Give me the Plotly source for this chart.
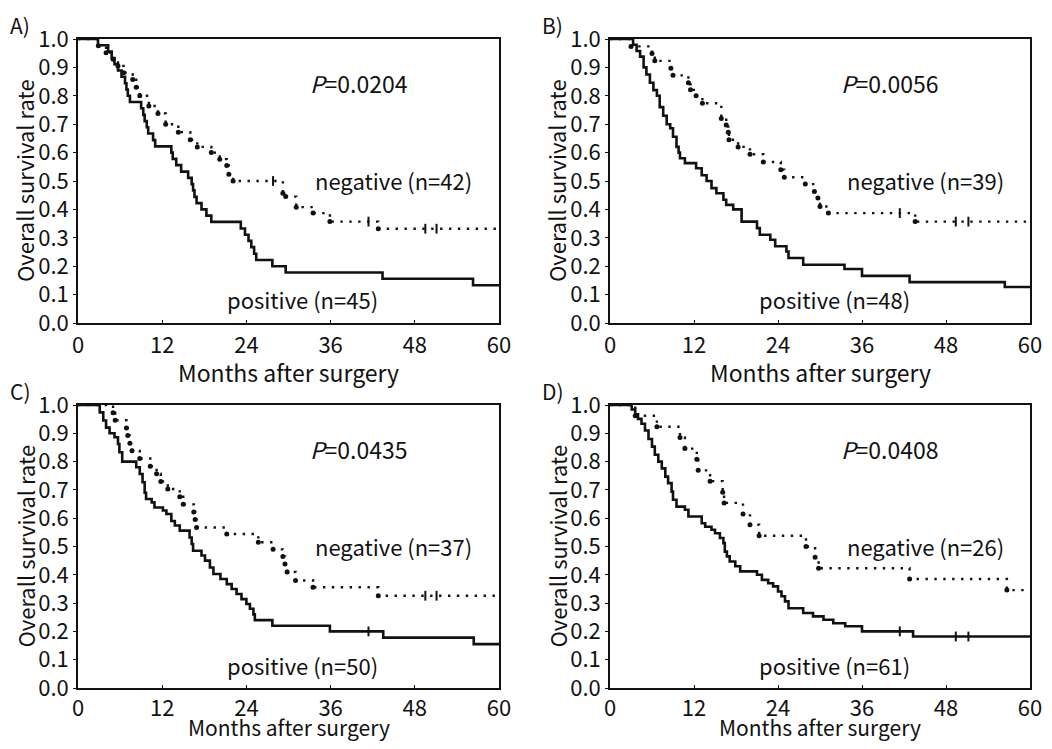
import plotly.graph_objects as go
from plotly.subplots import make_subplots

# Kaplan-Meier curves: drop times (months) and survival after each drop
# A)
a_pos_t = [2.85, 4.3, 4.8, 5.2, 5.7, 6.2, 6.7, 6.9, 7.1, 7.4, 9.0, 9.3, 9.5, 9.8, 10.0, 10.7, 11.0,
           13.3, 13.5, 14.0, 14.7, 15.7, 16.2, 16.4, 16.6, 16.9, 17.6, 18.3, 19.0, 23.2, 23.8, 24.3,
           24.7, 25.1, 25.4, 27.7, 29.6, 43.4, 56.3]
a_pos_s = [0.978, 0.956, 0.933, 0.911, 0.889, 0.867, 0.844, 0.822, 0.80, 0.778, 0.756, 0.733, 0.711,
           0.689, 0.667, 0.644, 0.622, 0.60, 0.578, 0.556, 0.533, 0.511, 0.489, 0.467, 0.444, 0.422,
           0.40, 0.378, 0.356, 0.333, 0.311, 0.289, 0.267, 0.244, 0.222, 0.20, 0.178, 0.156, 0.133]
a_neg_t = [2.9, 4.0, 5.0, 5.7, 6.5, 7.8, 8.3, 8.8, 10.1, 11.4, 12.5, 14.3, 16.0, 17.0, 19.0, 20.2,
           21.2, 21.5, 22.1, 29.2, 29.6, 31.1, 33.5, 35.9, 42.8]
a_neg_s = [0.976, 0.952, 0.929, 0.905, 0.881, 0.857, 0.83, 0.80, 0.764, 0.738, 0.70, 0.672, 0.645,
           0.62, 0.60, 0.577, 0.555, 0.524, 0.50, 0.457, 0.445, 0.408, 0.387, 0.357, 0.332]
a_cens_t = [27.8, 41.4, 49.5, 51.1]
a_cens_s = [0.50, 0.357, 0.332, 0.332]

# B)
b_pos_t = [3.3, 3.8, 4.3, 4.8, 5.2, 5.7, 6.2, 6.7, 7.1, 7.6, 8.1, 8.6, 9.0, 9.5, 9.8, 10.0, 10.7,
           12.3, 13.1, 13.8, 14.5, 15.2, 16.2, 16.6, 17.6, 18.8, 21.0, 21.4, 22.9, 23.6, 25.2, 25.5,
           27.6, 33.5, 36.0, 42.8, 56.4]
b_pos_s = [0.98, 0.958, 0.938, 0.90, 0.875, 0.846, 0.82, 0.80, 0.76, 0.73, 0.70, 0.686, 0.656,
           0.62, 0.60, 0.58, 0.563, 0.545, 0.52, 0.50, 0.475, 0.457, 0.434, 0.416, 0.40, 0.357,
           0.334, 0.311, 0.293, 0.27, 0.252, 0.229, 0.205, 0.19, 0.166, 0.144, 0.127]
b_neg_t = [3.0, 6.0, 6.4, 8.7, 9.0, 11.2, 11.5, 12.3, 13.2, 15.9, 16.6, 16.9, 17.0, 18.3, 20.0,
           21.9, 24.4, 24.9, 27.9, 29.2, 29.7, 30.0, 31.2, 43.6]
b_neg_s = [0.974, 0.949, 0.923, 0.897, 0.872, 0.846, 0.821, 0.80, 0.774, 0.72, 0.697, 0.672, 0.645,
           0.62, 0.594, 0.567, 0.54, 0.513, 0.489, 0.463, 0.44, 0.41, 0.387, 0.357]
b_cens_t = [41.4, 49.4, 51.2]
b_cens_s = [0.387, 0.357, 0.357]

# C)
c_pos_t = [3.1, 3.6, 4.0, 4.5, 5.2, 5.7, 5.9, 6.3, 8.3, 8.8, 9.2, 9.5, 9.7, 10.5, 10.9, 12.1, 12.6,
           13.3, 13.8, 14.5, 15.9, 16.2, 16.4, 17.6, 18.1, 18.8, 19.3, 20.3, 21.2, 21.9, 22.6, 23.3,
           24.0, 24.5, 25.0, 25.2, 27.7, 35.9, 43.5, 56.4]
c_pos_s = [0.974, 0.945, 0.92, 0.90, 0.886, 0.862, 0.833, 0.80, 0.78, 0.756, 0.727, 0.69, 0.668,
           0.656, 0.638, 0.627, 0.615, 0.59, 0.574, 0.556, 0.532, 0.509, 0.485, 0.468, 0.45, 0.426,
           0.403, 0.385, 0.367, 0.35, 0.332, 0.314, 0.297, 0.28, 0.26, 0.24, 0.22, 0.20, 0.178, 0.155]
c_neg_t = [5.0, 5.3, 6.9, 7.1, 7.4, 7.7, 8.8, 10.3, 11.2, 11.8, 12.8, 14.5, 15.0, 16.5, 16.7, 16.9,
           21.2, 25.7, 27.8, 29.2, 29.5, 29.8, 31.0, 33.5, 42.8]
c_neg_s = [0.973, 0.946, 0.919, 0.892, 0.865, 0.838, 0.811, 0.784, 0.757, 0.73, 0.703, 0.676, 0.649,
           0.622, 0.595, 0.567, 0.544, 0.515, 0.49, 0.465, 0.438, 0.41, 0.38, 0.356, 0.326]
c_cens_t = [41.4, 49.5, 51.1]
c_cens_s = [0.20, 0.326, 0.326]

# D)
d_pos_t = [3.1, 3.6, 4.0, 4.5, 5.0, 5.5, 6.0, 6.4, 6.9, 7.4, 7.9, 8.3, 8.8, 9.0, 9.5, 10.7, 11.2,
           13.1, 13.6, 14.5, 15.0, 15.7, 16.2, 16.4, 16.7, 17.1, 17.9, 18.6, 21.0, 21.7, 22.6, 23.3,
           24.0, 24.5, 25.0, 25.5, 27.6, 29.0, 30.5, 31.9, 33.6, 36.0, 43.3]
d_pos_s = [0.984, 0.967, 0.951, 0.934, 0.91, 0.88, 0.853, 0.824, 0.80, 0.776, 0.747, 0.724, 0.694,
           0.665, 0.641, 0.63, 0.606, 0.582, 0.57, 0.559, 0.547, 0.53, 0.512, 0.482, 0.465, 0.447,
           0.43, 0.412, 0.40, 0.382, 0.37, 0.359, 0.341, 0.324, 0.306, 0.282, 0.265, 0.253, 0.241,
           0.229, 0.218, 0.20, 0.182]
d_neg_t = [3.6, 6.7, 10.0, 10.7, 12.4, 12.6, 14.3, 16.1, 16.3, 19.0, 20.0, 21.3, 28.0, 29.3, 29.8,
           42.8, 56.7]
d_neg_s = [0.962, 0.923, 0.885, 0.846, 0.808, 0.769, 0.731, 0.692, 0.654, 0.615, 0.577, 0.538,
           0.50, 0.462, 0.423, 0.385, 0.346]
d_cens_t = [41.4, 49.4, 51.2]
d_cens_s = [0.20, 0.182, 0.182]

panel_letters = ["A)", "B)", "C)", "D)"]
p_values = ["0.0204", "0.0056", "0.0435", "0.0408"]
n_negative = [42, 39, 37, 26]
n_positive = [45, 48, 50, 61]
x_ticks = [0, 12, 24, 36, 48, 60]

panels = [
    (a_pos_t, a_pos_s, a_neg_t, a_neg_s, a_cens_t, a_cens_s),
    (b_pos_t, b_pos_s, b_neg_t, b_neg_s, b_cens_t, b_cens_s),
    (c_pos_t, c_pos_s, c_neg_t, c_neg_s, c_cens_t, c_cens_s),
    (d_pos_t, d_pos_s, d_neg_t, d_neg_s, d_cens_t, d_cens_s),
]

# page is 1052x749, the html body keeps an 8px margin round the figure
OFF = 8
W, H = 1052 - 2 * OFF, 749 - 2 * OFF
FONT = "Noto Sans CJK JP"
INK = "#111111"

# plot areas in page pixels: (left, right, top, bottom)
boxes = [(78, 499, 39, 323), (610, 1030, 39, 323), (78, 499, 405, 688), (610, 1030, 405, 688)]
# x title centre below the plot, and its size (bottom row sits against the page edge)
title_gap = [49, 49, 39, 39]
title_size = [23, 23, 21, 21]
tick_standoff = [2, 2, 0, 0]


def px(x):
    return (x - OFF) / W


def py(y):
    return 1 - (y - OFF) / H


def km_xy(t, s):
    return [0] + list(t) + [60], [1.0] + list(s) + [s[-1]]


fig = make_subplots(rows=2, cols=2)

for i, (pt, ps, nt, ns, ct, cs) in enumerate(panels):
    row, col = i // 2 + 1, i % 2 + 1
    x, y = km_xy(pt, ps)
    fig.add_trace(go.Scatter(x=x, y=y, mode="lines", line=dict(shape="hv", color=INK, width=2.6),
                             showlegend=False, hoverinfo="skip"), row=row, col=col)
    x, y = km_xy(nt, ns)
    fig.add_trace(go.Scatter(x=x, y=y, mode="lines",
                             line=dict(shape="hv", color=INK, width=2.4, dash="2.4px,6.5px"),
                             showlegend=False, hoverinfo="skip"), row=row, col=col)
    fig.add_trace(go.Scatter(x=nt, y=ns, mode="markers", marker=dict(color=INK, size=5),
                             showlegend=False, hoverinfo="skip", cliponaxis=False), row=row, col=col)
    fig.add_trace(go.Scatter(x=ct, y=cs, mode="markers",
                             marker=dict(symbol="line-ns-open", size=7, color=INK,
                                         line=dict(color=INK, width=2)),
                             showlegend=False, hoverinfo="skip", cliponaxis=False), row=row, col=col)

    l, r, t, b = boxes[i]
    sfx = "" if i == 0 else str(i + 1)
    fig.layout["xaxis" + sfx].update(
        domain=[px(l), px(r)], range=[0, 60], tickvals=x_ticks, showgrid=False, zeroline=False,
        showline=True, mirror=True, linecolor=INK, linewidth=1.6, automargin=False,
        ticks="inside", ticklen=3, tickcolor=INK, ticklabelstandoff=tick_standoff[i],
        tickfont=dict(family=FONT, size=22, color=INK))
    fig.layout["yaxis" + sfx].update(
        domain=[py(b), py(t)], range=[0, 1], dtick=0.1, tickformat=".1f", showgrid=False,
        zeroline=False, showline=True, mirror=True, linecolor=INK, linewidth=1.6, automargin=False,
        ticks="outside", ticklen=3, tickcolor=INK,
        tickfont=dict(family=FONT, size=22, color=INK))

    xr, yr = "x" + sfx, "y" + sfx
    txt = dict(family=FONT, size=22, color=INK)
    fig.add_annotation(x=40, y=0.845, xref=xr, yref=yr, text="<i>P</i>=" + p_values[i],
                       showarrow=False, font=dict(family=FONT, size=23, color=INK))
    fig.add_annotation(x=45, y=0.502, xref=xr, yref=yr, text="negative (n=%d)" % n_negative[i],
                       showarrow=False, font=txt)
    fig.add_annotation(x=32, y=0.083, xref=xr, yref=yr, text="positive (n=%d)" % n_positive[i],
                       showarrow=False, font=txt)

    # panel letter, axis titles
    fig.add_annotation(x=px(l - 70), y=py(t - 14), xref="paper", yref="paper",
                       text=panel_letters[i], showarrow=False, xanchor="left", yanchor="middle",
                       font=dict(family=FONT, size=21, color=INK))
    fig.add_annotation(x=px((l + r) / 2), y=py(b + title_gap[i]), xref="paper", yref="paper",
                       text="Months after surgery", showarrow=False,
                       xanchor="center", yanchor="middle",
                       font=dict(family=FONT, size=title_size[i], color=INK))
    fig.add_annotation(x=px(l - 54), y=py((t + b) / 2), xref="paper", yref="paper",
                       text="Overall survival rate", showarrow=False, textangle=-90,
                       xanchor="center", yanchor="middle",
                       font=dict(family=FONT, size=22, color=INK))

fig.update_layout(width=W, height=H, margin=dict(l=0, r=0, t=0, b=0),
                  plot_bgcolor="white", paper_bgcolor="white")

fig.write_html("out.html")
